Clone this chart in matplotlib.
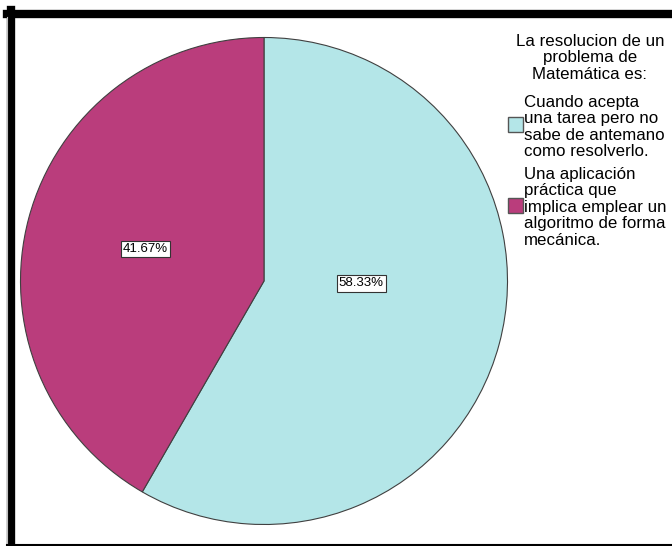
import matplotlib.pyplot as plt
from matplotlib.patches import Rectangle
from matplotlib.lines import Line2D

plt.rcParams['font.family'] = ['Liberation Sans', 'DejaVu Sans']

labels = ['Cuando acepta\nuna tarea pero no\nsabe de antemano\ncomo resolverlo.',
          'Una aplicación\npráctica que\nimplica emplear un\nalgoritmo de forma\nmecánica.']
values = [58.33, 41.67]
colors = ['#b4e6e8', '#ba3d7c']
legend_title = 'La resolucion de un\nproblema de\nMatemática es:'

W, H = 672, 546
fig = plt.figure(figsize=(W / 100, H / 100), dpi=100)

cx, cy, r = 264, 281, 243.5
ax = fig.add_axes([(cx - r) / W, (H - cy - r) / H, 2 * r / W, 2 * r / H])
wedges, texts, autotexts = ax.pie(values, colors=colors, startangle=90, counterclock=False,
                                  autopct='%.2f%%', pctdistance=0.505, radius=1,
                                  wedgeprops=dict(edgecolor='#404040', linewidth=0.8),
                                  textprops=dict(fontsize=9.5))
ax.set_xlim(-1, 1)
ax.set_ylim(-1, 1)
ax.set_aspect('equal')
# SPSS puts the big slice's label nearer the centre
autotexts[0].set_position((0.40, -0.01))
for t in autotexts:
    t.set_bbox(dict(facecolor='white', edgecolor='#333333', linewidth=0.8, pad=1.5))
    t.set_ha('center')
    t.set_va('center')

# legend drawn by hand
fs = 12.2
ls = 1.12
fig.text(590 / W, 1 - 34 / H, legend_title, ha='center', va='top', fontsize=fs, linespacing=ls)
ys = [(124, 95), (205, 167)]
for lab, col, (py, ty) in zip(labels, colors, ys):
    fig.add_artist(Rectangle((508 / W, 1 - (py + 7.5) / H), 15 / W, 15 / H,
                             facecolor=col, edgecolor='#555555', linewidth=1,
                             transform=fig.transFigure))
    fig.text(524 / W, 1 - ty / H, lab, ha='left', va='top', fontsize=fs, linespacing=ls)

# frame
fig.add_artist(Line2D([7 / W, 1], [1 - 14 / H, 1 - 14 / H], color='black', lw=6, transform=fig.transFigure))
fig.add_artist(Line2D([11 / W, 11 / W], [0, 1 - 10 / H], color='black', lw=6, transform=fig.transFigure))
fig.add_artist(Line2D([6.5 / W, 6.5 / W], [0, 1 - 17 / H], color='#c0c0c0', lw=0.8, transform=fig.transFigure))
fig.add_artist(Line2D([7 / W, 1], [1.5 / H, 1.5 / H], color='black', lw=1.5, transform=fig.transFigure))

fig.savefig('out.png', dpi=100)
